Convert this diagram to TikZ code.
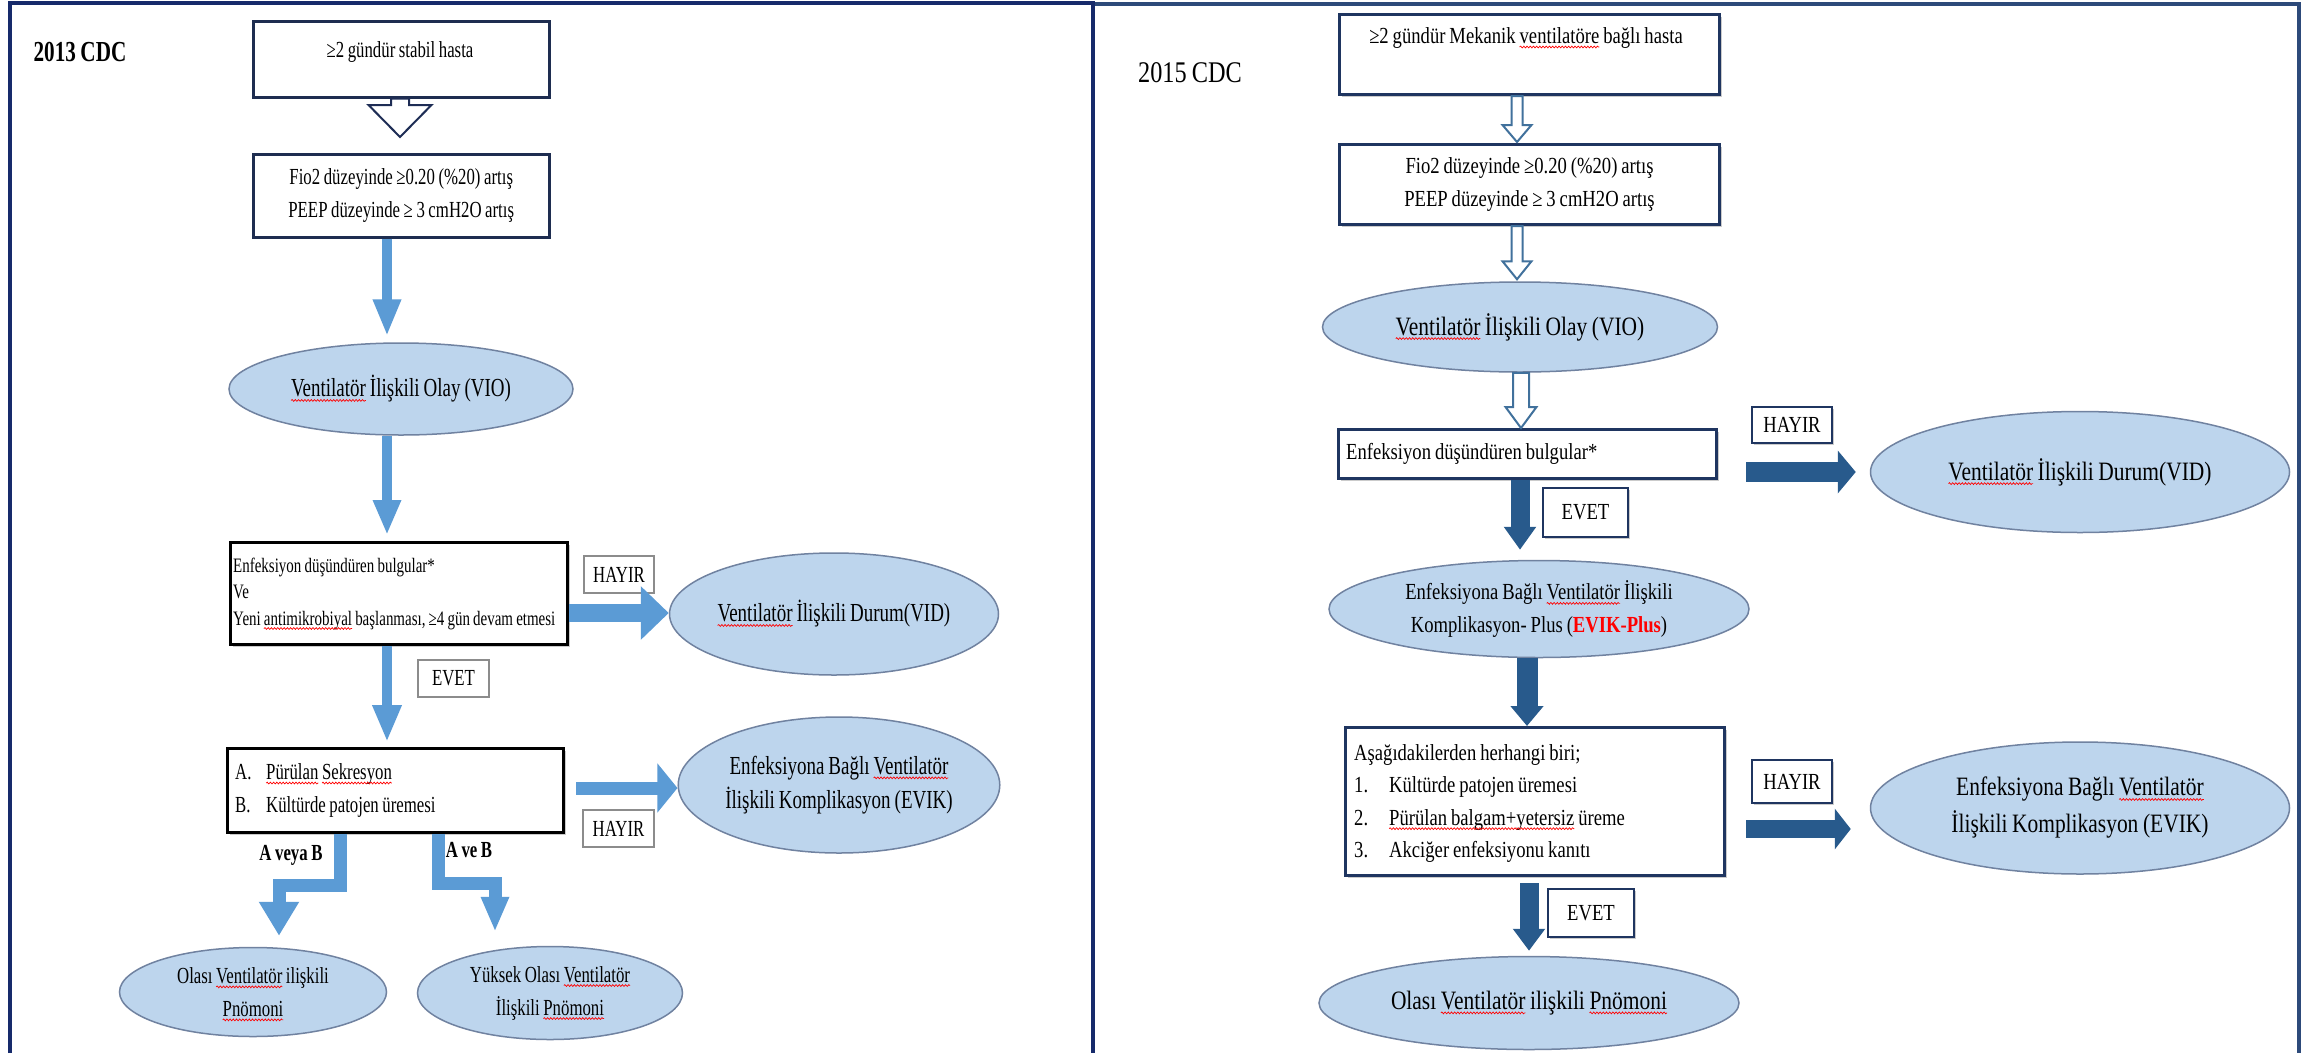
\documentclass[tikz,border=0pt]{standalone}
\usepackage{fontspec}
\usetikzlibrary{shapes.geometric,arrows.meta,calc,decorations.pathmorphing,shadows}
\newfontfamily\lfnt{Liberation Serif}[FakeStretch=0.73,WordSpace=0.85]
\newfontfamily\rfnt{Liberation Serif}[FakeStretch=0.81,WordSpace=0.85]

\definecolor{lborder}{RGB}{22,42,107}
\definecolor{rborder}{RGB}{45,74,122}
\definecolor{elfill}{RGB}{189,213,237}
\definecolor{elline}{RGB}{112,130,160}
\definecolor{lblue}{RGB}{91,155,213}
\definecolor{dblue}{RGB}{40,90,140}
\definecolor{hollowR}{RGB}{65,113,156}
\definecolor{hollowL}{RGB}{30,45,85}
\definecolor{boxnavy}{RGB}{30,45,80}
\definecolor{rboxc}{RGB}{31,53,96}
\definecolor{lablc}{RGB}{140,140,140}

% red wavy spelling underline
\newsavebox\wvbox
\newcommand\wv[1]{\sbox\wvbox{#1}\rlap{\usebox\wvbox}\tikz[baseline=0pt]{\path[use as bounding box] (0pt,0pt) rectangle (\wd\wvbox,0pt);\draw[red,line width=0.7pt,decorate,decoration={snake,amplitude=0.9pt,segment length=3.2pt}] (0pt,-3.5pt) -- (\wd\wvbox,-3.5pt);}}

% outlined block arrow: style, start, end, shaft half width, head half width, head length
\newcommand\hollowarrow[6]{\draw[#1] let \p1=(#2), \p2=(#3) in
  (\x1-#4,\y1) -- (\x1-#4,\y2+#6) -- (\x1-#5,\y2+#6) -- (\x1,\y2) -- (\x1+#5,\y2+#6) -- (\x1+#4,\y2+#6) -- (\x1+#4,\y1) -- cycle;}

\tikzset{
  lframe/.style={draw=lborder,line width=4pt},
  rframe/.style={draw=rborder,line width=4pt},
  lhead/.style={font=\lfnt\bfseries\fontsize{29}{29}\selectfont},
  rhead/.style={font=\rfnt\fontsize{30}{30}\selectfont},
  ltxt/.style={font=\lfnt\fontsize{23}{33}\selectfont},
  lsml/.style={font=\lfnt\fontsize{20.5}{26.5}\selectfont},
  lbig/.style={font=\lfnt\fontsize{26}{34}\selectfont},
  lbld/.style={font=\lfnt\bfseries\fontsize{23}{23}\selectfont},
  rtxt/.style={font=\rfnt\fontsize{23}{32.3}\selectfont},
  rbig/.style={font=\rfnt\fontsize{26.5}{37}\selectfont},
  soft/.style={drop shadow={shadow xshift=2pt,shadow yshift=-2pt,fill=black!40,opacity=0.5}},
  lbox/.style={draw=boxnavy,line width=2.5pt,fill=white,inner sep=0pt},
  kbox/.style={draw=black,line width=3pt,fill=white,inner sep=0pt,soft},
  rbox/.style={draw=rboxc,line width=3pt,fill=white,inner sep=0pt,soft},
  oval/.style={ellipse,draw=elline,line width=1.5pt,fill=elfill,inner sep=0pt,align=center},
  llab/.style={draw=lablc,line width=1.2pt,fill=white,inner sep=0pt,ltxt},
  rlab/.style={draw=rboxc,line width=2pt,fill=white,inner sep=0pt,rtxt,soft},
  larr/.style={draw=lblue,line width=10pt},
  rarr/.style={draw=dblue,line width=19pt},
  hd/.style 2 args={-{Triangle[width=#1,length=#2]}},
  lhol/.style={draw=hollowL,fill=white,line width=2pt,line join=miter},
  rhol/.style={draw=hollowR,fill=white,line width=2pt,line join=miter}
}

\begin{document}
\begin{tikzpicture}[x=1pt,y=-1pt]
\useasboundingbox (0,0) rectangle (2308,1053);
\fill[white] (0,0) rectangle (2308,1053);

% ---------------- 2013 CDC ----------------
\node[lhead] (t13) at (80,52) {2013 CDC};

\node[lbox,minimum width=296pt,minimum height=76pt,anchor=north west] (l1) at (252,20) {};
\node[ltxt] (l1t) at (400,52) {≥2 gündür stabil hasta};

\node[lbox,ltxt,align=center,minimum width=296pt,minimum height=83pt,anchor=north west] (l2) at (252,153)
  {Fio2 düzeyinde ≥0.20 (\%20) artış\\PEEP düzeyinde ≥ 3 cmH2O artış};

\node[oval,lbig,minimum width=344pt,minimum height=92pt] (lvio) at (401,389)
  {\wv{Ventilatör} İlişkili Olay (VIO)};

\node[kbox,minimum width=337pt,minimum height=102pt,anchor=north west] (l3) at (229,541) {};
\node[lsml,align=left,anchor=west,inner sep=0pt] (l3t) at ($(l3.west)+(4,0)$)
  {Enfeksiyon düşündüren bulgular*\\Ve\\Yeni \wv{antimikrobiyal} başlanması, ≥4 gün devam etmesi};

\node[oval,lbig,minimum width=324pt,minimum height=122pt] (lvid) at (834,614)
  {\wv{Ventilatör} İlişkili Durum(VID)};

\node[llab,minimum width=70pt,minimum height=37pt] (lh1) at (619,574.5) {HAYIR};
\node[llab,minimum width=71pt,minimum height=37pt] (le1) at (453.5,678.5) {EVET};

\node[kbox,minimum width=336pt,minimum height=84pt,anchor=north west] (l4) at (226,747) {};
\node[ltxt,align=left,anchor=west,inner sep=0pt] (l4t) at ($(l4.west)+(9,0)$)
  {\makebox[31pt][l]{A.}\wv{Pürülan} \wv{Sekresyon}\\\makebox[31pt][l]{B.}Kültürde patojen üremesi};

\node[oval,lbig,minimum width=320pt,minimum height=136pt] (levik) at (839,785)
  {Enfeksiyona Bağlı \wv{Ventilatör}\\İlişkili Komplikasyon (EVIK)};

\node[llab,minimum width=71pt,minimum height=37pt] (lh2) at (618.5,828.5) {HAYIR};

\node[lbld] (lab1) at (291,855) {A veya B};
\node[lbld] (lab2) at (469,850) {A ve B};

\node[oval,ltxt,minimum width=267pt,minimum height=89pt] (lolasi) at (253,992)
  {Olası \wv{Ventilatör} ilişkili\\\wv{Pnömoni}};
\node[oval,ltxt,minimum width=265pt,minimum height=93pt] (lyuk) at (550,993)
  {Yüksek Olası \wv{Ventilatör}\\İlişkili \wv{Pnömoni}};

% connectors, 2013
\coordinate (lhx) at (400,0);
\coordinate (lx) at (387,0);
\coordinate (ly1) at (0,613);
\coordinate (ly2) at (0,788);
\coordinate (lb1) at (340,885);
\coordinate (lb2) at (279,885);
\coordinate (lb3) at (438,883);
\coordinate (lb4) at (495,883);

\hollowarrow{lhol}{l1.south -| lhx}{$(l2.north -| lhx)+(0,-16)$}{9pt}{31.5pt}{32pt}
\draw[larr,hd={26pt}{37pt}] (l2.south -| lx) -- ($(lvio.north -| lx)+(0,-6)$);
\draw[larr,hd={26pt}{35pt}] (lvio.south -| lx) -- ($(l3.north -| lx)+(0,-6)$);
\draw[larr,hd={27pt}{37pt}] (l3.south -| lx) -- ($(l4.north -| lx)+(0,-5)$);
\draw[larr,line width=18pt,hd={52pt}{28pt}] (l3.east |- ly1) -- (lvid.west |- ly1);
\draw[larr,line width=13pt,hd={48pt}{20pt}] ($(l4.east |- ly2)+(11,0)$) -- (levik.west |- ly2);
\draw[larr,line width=13pt,line join=miter,hd={38pt}{34pt},shorten >=11pt]
  (l4.south -| lb1) -- (lb1) -- (lb2) -- (lolasi.north -| lb2);
\draw[larr,line width=13pt,line join=miter,hd={26pt}{35pt},shorten >=14pt]
  (l4.south -| lb3) -- (lb3) -- (lb4) -- (lyuk.north -| lb4);

% ---------------- 2015 CDC ----------------
\node[rhead] (t15) at (1190,73) {2015 CDC};

\node[rbox,minimum width=380pt,minimum height=80pt,anchor=north west] (r1) at (1338,13) {};
\node[rtxt] (r1t) at (1526,38) {≥2 gündür Mekanik \wv{ventilatöre} bağlı hasta};

\node[rbox,rtxt,align=center,minimum width=380pt,minimum height=80pt,anchor=north west] (r2) at (1338,143)
  {Fio2 düzeyinde ≥0.20 (\%20) artış\\PEEP düzeyinde ≥ 3 cmH2O artış};

\node[oval,rbig,minimum width=395pt,minimum height=90pt] (rvio) at (1520,327)
  {\wv{Ventilatör} İlişkili Olay (VIO)};

\node[rbox,minimum width=378pt,minimum height=49pt,anchor=north west] (r3) at (1337,428) {};
\node[rtxt,anchor=west,inner sep=0pt] (r3t) at ($(r3.west)+(9,0)$) {Enfeksiyon düşündüren bulgular*};

\node[oval,rbig,minimum width=419pt,minimum height=121pt] (rvid) at (2080,472)
  {\wv{Ventilatör} İlişkili Durum(VID)};

\node[rlab,minimum width=80pt,minimum height=36pt] (rh1) at (1792,425) {HAYIR};
\node[rlab,minimum width=85pt,minimum height=49pt] (re1) at (1585.5,512.5) {EVET};

\node[oval,rtxt,minimum width=420pt,minimum height=97pt] (revp) at (1539,609)
  {Enfeksiyona Bağlı \wv{Ventilatör} İlişkili\\Komplikasyon- Plus ({\color{red}\bfseries EVIK-Plus})};

\node[rbox,minimum width=379pt,minimum height=148pt,anchor=north west] (r4) at (1344,726) {};
\node[rtxt,align=left,anchor=west,inner sep=0pt] (r4t) at ($(r4.west)+(10,2)$)
  {Aşağıdakilerden herhangi biri;\\
   \makebox[35pt][l]{1.}Kültürde patojen üremesi\\
   \makebox[35pt][l]{2.}\wv{Pürülan balgam+yetersiz} üreme\\
   \makebox[35pt][l]{3.}Akciğer enfeksiyonu kanıtı};

\node[rlab,minimum width=80pt,minimum height=43pt] (rh2) at (1792,781.5) {HAYIR};

\node[oval,rbig,minimum width=419pt,minimum height=132pt] (revik) at (2080,808)
  {Enfeksiyona Bağlı \wv{Ventilatör}\\İlişkili Komplikasyon (EVIK)};

\node[rlab,minimum width=86pt,minimum height=48pt] (re2) at (1591,913) {EVET};

\node[oval,rbig,minimum width=420pt,minimum height=93pt] (rolasi) at (1529,1003)
  {Olası \wv{Ventilatör} ilişkili \wv{Pnömoni}};

% connectors, 2015
\coordinate (rx) at (1517,0);
\coordinate (rxb) at (1521,0);
\coordinate (rx2) at (1520,0);
\coordinate (rx3) at (1527,0);
\coordinate (rx4) at (1529,0);
\coordinate (ry1) at (0,472);
\coordinate (ry2) at (0,829);

\hollowarrow{rhol}{r1.south -| rx}{$(r2.north -| rx)+(0,-1)$}{5.5pt}{14.5pt}{17pt}
\hollowarrow{rhol}{r2.south -| rx}{$(rvio.north -| rx)+(0,-2)$}{5.5pt}{14.5pt}{18pt}
\hollowarrow{rhol}{rvio.south -| rxb}{r3.north -| rxb}{8pt}{15.5pt}{21pt}
\draw[rarr,hd={31pt}{23pt}] (r3.south -| rx2) -- ($(revp.north -| rx2)+(0,-10)$);
\draw[rarr,line width=20pt,hd={42pt}{18pt}] ($(r3.east |- ry1)+(28,0)$) -- ($(rvid.west |- ry1)+(-14,0)$);
\draw[rarr,line width=21pt,hd={32pt}{20pt}] (revp.south -| rx3) -- (r4.north -| rx3);
\draw[rarr,line width=18pt,hd={40pt}{16pt}] ($(r4.east |- ry2)+(20,0)$) -- ($(revik.west |- ry2)+(-19,0)$);
\draw[rarr,hd={31pt}{22pt}] ($(r4.south -| rx4)+(0,6)$) -- ($(rolasi.north -| rx4)+(0,-5)$);

% panel frames
\draw[rframe] (1093,4) -- (2299,4) -- (2299,1053);
\draw[lframe] (10,1053) -- (10,3) -- (1093,3) -- (1093,1053);
\end{tikzpicture}
\end{document}
